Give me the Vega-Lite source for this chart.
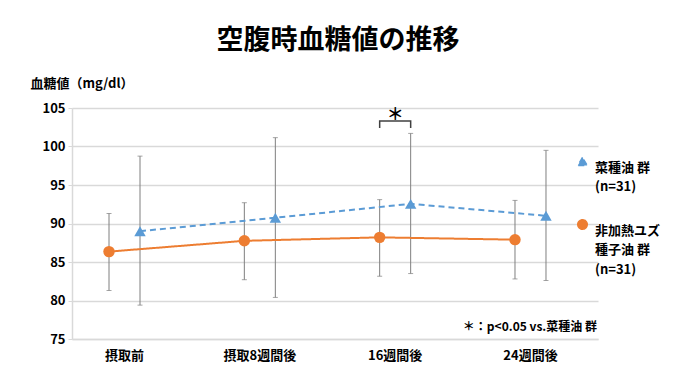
{
  "$schema": "https://vega.github.io/schema/vega-lite/v6.json",
  "width": 526,
  "height": 231,
  "autosize": "none",
  "padding": {"left": 72, "top": 108, "right": 79, "bottom": 38},
  "background": "white",
  "title": {
    "text": "空腹時血糖値の推移",
    "font": "Noto Sans CJK JP",
    "fontSize": 27,
    "fontWeight": "bold",
    "color": "#000000",
    "anchor": "middle",
    "dx": 3,
    "offset": 22
  },
  "config": {
    "font": "Noto Sans CJK JP",
    "view": {"stroke": null},
    "style": {"guide-label": {"lineHeight": 19.5}},
    "axis": {"labelFont": "Noto Sans CJK JP", "titleFont": "Noto Sans CJK JP"},
    "axisY": {
      "labelFontSize": 13,
      "labelFontWeight": "bold",
      "labelColor": "#000000",
      "labelPadding": 3,
      "labelOverlap": false,
      "gridColor": "#d9d9d9",
      "gridWidth": 1.5,
      "domainColor": "#d9d9d9",
      "domainWidth": 1.5,
      "tickColor": "#d9d9d9",
      "tickSize": 4
    }
  },
  "datasets": {
    "main": [
      {"t": "摂取前", "g": "非加熱ユズ種子油 群", "m": 86.35, "lo": 81.3, "hi": 91.3},
      {"t": "摂取8週間後", "g": "非加熱ユズ種子油 群", "m": 87.75, "lo": 82.7, "hi": 92.7},
      {"t": "16週間後", "g": "非加熱ユズ種子油 群", "m": 88.2, "lo": 83.15, "hi": 93.1},
      {"t": "24週間後", "g": "非加熱ユズ種子油 群", "m": 87.9, "lo": 82.8, "hi": 93.0},
      {"t": "摂取前", "g": "菜種油 群", "m": 89.0, "lo": 79.4, "hi": 98.75},
      {"t": "摂取8週間後", "g": "菜種油 群", "m": 90.75, "lo": 80.4, "hi": 101.15},
      {"t": "16週間後", "g": "菜種油 群", "m": 92.55, "lo": 83.5, "hi": 101.7},
      {"t": "24週間後", "g": "菜種油 群", "m": 91.0, "lo": 82.6, "hi": 99.5}
    ],
    "bracket": [
      {"t": "16週間後", "g": "非加熱ユズ種子油 群", "v": 102.4, "o": 1},
      {"t": "16週間後", "g": "非加熱ユズ種子油 群", "v": 103.3, "o": 2},
      {"t": "16週間後", "g": "菜種油 群", "v": 103.3, "o": 3},
      {"t": "16週間後", "g": "菜種油 群", "v": 102.4, "o": 4}
    ],
    "star": [{"t": "16週間後", "v": 104.1, "label": "＊"}],
    "note": [{"v": 76.5, "label": "＊：p<0.05 vs.菜種油 群"}]
  },
  "encoding": {
    "x": {
      "field": "t",
      "type": "nominal",
      "sort": ["摂取前", "摂取8週間後", "16週間後", "24週間後"],
      "scale": {"domain": ["摂取前", "摂取8週間後", "16週間後", "24週間後"], "paddingInner": 0.224, "paddingOuter": 0.0554, "align": 0},
      "axis": {
        "title": null,
        "labelAngle": 0,
        "labelFontSize": 13,
        "labelFontWeight": "bold",
        "labelColor": "#000000",
        "labelPadding": 10,
        "ticks": false,
        "domainColor": "#d9d9d9",
        "domainWidth": 1.5
      }
    }
  },
  "layer": [
    {
      "data": {"name": "main"},
      "mark": {"type": "rule", "color": "#7f7f7f", "strokeWidth": 1},
      "encoding": {
        "xOffset": {"field": "g", "type": "nominal", "scale": {"domain": ["非加熱ユズ種子油 群", "菜種油 群"], "paddingOuter": 0.694, "paddingInner": 0}},
        "y": {
          "field": "lo",
          "type": "quantitative",
          "scale": {"domain": [75, 105], "nice": false, "zero": false},
          "axis": {
            "values": [75, 80, 85, 90, 95, 100, 105],
            "tickCount": 7,
            "title": "血糖値（mg/dl）",
            "titleAngle": 0,
            "titleAlign": "left",
            "titleBaseline": "middle",
            "titleX": -42,
            "titleY": -25,
            "titleFontSize": 13,
            "titleFontWeight": "bold",
            "titleColor": "#000000"
          }
        },
        "y2": {"field": "hi"}
      }
    },
    {
      "data": {"name": "main"},
      "mark": {"type": "tick", "color": "#7f7f7f", "size": 5, "thickness": 1, "orient": "horizontal"},
      "encoding": {
        "xOffset": {"field": "g", "type": "nominal"},
        "y": {"field": "lo", "type": "quantitative"}
      }
    },
    {
      "data": {"name": "main"},
      "mark": {"type": "tick", "color": "#7f7f7f", "size": 5, "thickness": 1, "orient": "horizontal"},
      "encoding": {
        "xOffset": {"field": "g", "type": "nominal"},
        "y": {"field": "hi", "type": "quantitative"}
      }
    },
    {
      "data": {"name": "main"},
      "mark": {"type": "line", "strokeWidth": 2},
      "encoding": {
        "xOffset": {"field": "g", "type": "nominal"},
        "y": {"field": "m", "type": "quantitative"},
        "color": {
          "field": "g",
          "type": "nominal",
          "scale": {"domain": ["菜種油 群", "非加熱ユズ種子油 群"], "range": ["#5B9BD5", "#ED7D31"]}
        },
        "strokeDash": {
          "field": "g",
          "type": "nominal",
          "scale": {"domain": ["菜種油 群", "非加熱ユズ種子油 群"], "range": [[6, 4], [1, 0]]},
          "legend": null
        }
      }
    },
    {
      "data": {"name": "main"},
      "mark": {"type": "point", "filled": true, "size": 130, "opacity": 1},
      "encoding": {
        "xOffset": {"field": "g", "type": "nominal"},
        "y": {"field": "m", "type": "quantitative"},
        "color": {
          "field": "g",
          "type": "nominal",
          "legend": {
            "orient": "none",
            "legendX": 504,
            "legendY": 47,
            "title": null,
            "labelFontSize": 13,
            "labelFontWeight": "bold",
            "labelColor": "#000000",
            "labelExpr": "datum.label == '菜種油 群' ? ['菜種油 群', '(n=31)'] : ['非加熱ユズ', '種子油 群', '(n=31)']",
            "labelBaseline": "top",
            "labelLimit": 200,
            "labelOffset": 6,
            "rowPadding": 22,
            "symbolSize": 90
          }
        },
        "shape": {
          "field": "g",
          "type": "nominal",
          "scale": {"domain": ["菜種油 群", "非加熱ユズ種子油 群"], "range": ["triangle-up", "circle"]}
        }
      }
    },
    {
      "data": {"name": "bracket"},
      "mark": {"type": "line", "color": "#404040", "strokeWidth": 1.5},
      "encoding": {
        "xOffset": {"field": "g", "type": "nominal"},
        "y": {"field": "v", "type": "quantitative"},
        "order": {"field": "o", "type": "quantitative"}
      }
    },
    {
      "data": {"name": "star"},
      "mark": {"type": "text", "fontSize": 17, "fontWeight": "bold", "color": "#000000", "baseline": "middle"},
      "encoding": {
        "y": {"field": "v", "type": "quantitative"},
        "text": {"field": "label"}
      }
    },
    {
      "data": {"name": "note"},
      "mark": {"type": "text", "fontSize": 12, "fontWeight": "bold", "color": "#000000", "align": "right", "baseline": "middle", "dx": -1},
      "encoding": {
        "x": {"value": "width"},
        "y": {"field": "v", "type": "quantitative"},
        "text": {"field": "label"}
      }
    }
  ]
}
